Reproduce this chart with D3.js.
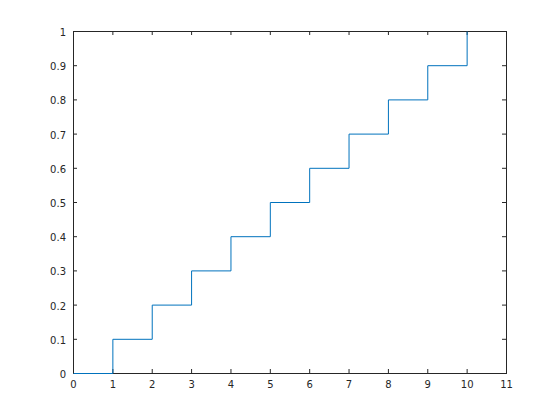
<!DOCTYPE html>
<html><head><meta charset="utf-8">
<script src="https://cdn.jsdelivr.net/npm/d3@7"></script>
<style>body{margin:0;background:#fff;} svg{display:block;}</style>
</head><body>
<script>
const xValues = [0,1,2,3,4,5,6,7,8,9,10];
const yValues = [0,0.1,0.2,0.3,0.4,0.5,0.6,0.7,0.8,0.9,1];
const xTicks = [0,1,2,3,4,5,6,7,8,9,10,11];
const yTicks = [0,0.1,0.2,0.3,0.4,0.5,0.6,0.7,0.8,0.9,1];

const W=560,H=420;
const m={left:73,top:31,right:506,bottom:373};
const svg=d3.select("body").append("svg").attr("width",W).attr("height",H);
svg.append("rect").attr("width",W).attr("height",H).attr("fill","#fff");
const x=d3.scaleLinear().domain([0,11]).range([m.left,m.right]);
const y=d3.scaleLinear().domain([0,1]).range([m.bottom,m.top]);
const col="#262626", font="DejaVu Sans, sans-serif";
const tl=4;

function styleAxis(g){
  g.select(".domain").remove();
  g.selectAll(".tick line").attr("stroke",col);
  g.selectAll(".tick text").attr("fill",col).style("font-family",font).style("font-size","10px");
}
svg.append("g").attr("transform",`translate(0,${m.bottom})`)
  .call(d3.axisBottom(x).tickValues(xTicks).tickSize(-tl).tickPadding(8).tickFormat(d3.format("")))
  .call(styleAxis);
svg.append("g").attr("transform",`translate(0,${m.top})`)
  .call(d3.axisTop(x).tickValues(xTicks).tickSize(-tl).tickFormat(""))
  .call(styleAxis);
svg.append("g").attr("transform",`translate(${m.left},0)`)
  .call(d3.axisLeft(y).tickValues(yTicks).tickSize(-tl).tickPadding(7).tickFormat(d3.format("")))
  .call(styleAxis)
  .call(g=>g.selectAll(".tick text").attr("dy","0.45em"));
svg.append("g").attr("transform",`translate(${m.right},0)`)
  .call(d3.axisRight(y).tickValues(yTicks).tickSize(-tl).tickFormat(""))
  .call(styleAxis);

svg.append("rect").attr("x",m.left+0.5).attr("y",m.top+0.5)
  .attr("width",m.right-m.left).attr("height",m.bottom-m.top)
  .attr("fill","none").attr("stroke",col).attr("stroke-width",1);

const data=xValues.map((v,i)=>[v,yValues[i]]);
svg.append("path").datum(data)
  .attr("d",d3.line().x(d=>x(d[0])).y(d=>y(d[1])).curve(d3.curveStepAfter))
  .attr("transform","translate(0.5,0.5)")
  .attr("fill","none").attr("stroke","#0072BD").attr("stroke-width",1);
</script>
</body></html>
